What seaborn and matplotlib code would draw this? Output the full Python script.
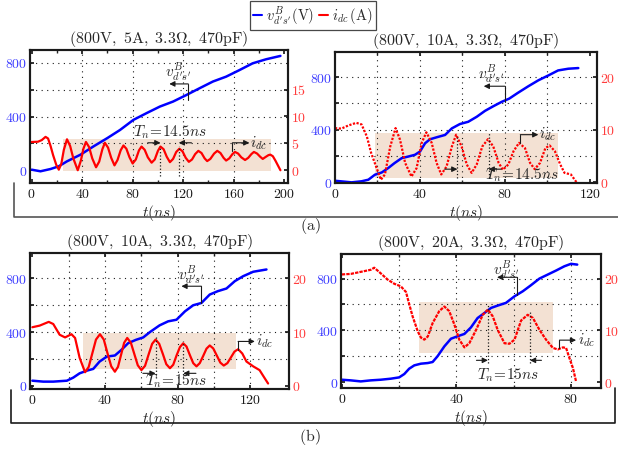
import pandas as pd
import seaborn as sns
import matplotlib.pyplot as plt
from matplotlib.lines import Line2D

sns.set_theme(style="white")
plt.rcParams["mathtext.fontset"] = "cm"
plt.rcParams["font.family"] = ["DejaVu Serif"]

BLUE = "#0000ff"
RED = "#ff0000"
SHADE = "#f3e1d3"

# ---- (a) left: 800V, 5A ----
t_v1 = [0, 7, 15, 21.5, 28, 38.6, 49, 60, 70, 80.6, 91, 101.6, 112, 122.6, 133, 143.6,
        154, 164.6, 175, 185.6, 197]
v1 = [5, -7, 10, 30, 67, 116, 178, 240, 300, 375, 425, 474, 511, 560, 610, 660,
      696, 745, 795, 825, 850]
t_i1 = [0, 5, 8, 11, 13, 15, 17, 19.5, 21.5, 23.5, 25.5, 28, 30.5, 33, 36.5, 39, 41, 43,
        45.5, 48, 51, 53.5, 56, 58, 60.5, 63, 65.6, 68, 70.5, 72.7, 75, 77.5, 80, 82.5,
        85, 87, 89.5, 92, 95, 97.5, 100, 102, 104.5, 107, 109.5, 112, 114.5, 117, 119.5,
        122, 124.5, 127, 129.5, 132, 134.5, 137, 139, 141.5, 144.5, 147, 149.5, 152, 154,
        156.5, 159, 161, 163.5, 166, 169, 171.5, 174, 176, 178.5, 181, 183, 185.5, 187.5,
        189, 191, 193, 195, 197]
i1 = [5.25, 5.3, 5.6, 6.2, 5.9, 4.5, 2.8, 1.0, 0.1, 1.2, 3.8, 5.75, 4.5, 2.2, 0, 1.8, 4.0, 5.25,
      4.3, 2.2, 0.55, 1.6, 3.9, 5.1, 4.2, 2.3, 0.9, 1.9, 3.7, 4.6, 4.0, 2.4, 1.25, 2.0,
      3.7, 4.4, 3.8, 2.4, 1.4, 2.0, 3.6, 4.4, 3.9, 2.5, 1.5, 2.1, 3.4, 4.0, 3.5,
      2.3, 1.56, 2.0, 3.0, 3.6, 3.2, 2.2, 1.7, 2.1, 3.1, 3.6, 3.2, 2.3, 1.8,
      2.2, 3.0, 3.4, 3.1, 2.4, 1.9, 2.3, 3.0, 3.4, 3.1, 2.5, 2.1, 2.5, 2.8,
      2.9, 2.6, 1.8, 0.9, 0]

# ---- (a) right: 800V, 10A ----
t_v2 = [0, 7.8, 12.5, 15.7, 18.8, 22, 25, 28, 31.4, 34.5, 37.6, 40, 42.4, 44.7, 47.8, 51.8,
        55, 58.8, 62.7, 66.7, 70.6, 74.5, 78.4, 82, 86, 91, 95.7, 100.4, 105, 109.8, 114.5]
v2 = [12, 0, 8, 20, 58, 75, 108, 146, 184, 196, 209, 234, 297, 327, 342, 360,
      410, 443, 460, 498, 543, 578, 611, 636, 679, 730, 775, 812, 850, 863, 868]
t_i2 = [0, 3, 6.3, 10, 12.5, 15, 17, 19.6, 21.6, 23.5, 26, 28.5, 30.6, 33, 36, 38.4, 40.8,
        43, 45.5, 47.8, 50, 52.5, 55, 57, 59.6, 62, 64.3, 66.7, 69.3, 72, 74.5, 77, 79,
        81.6, 84, 86.6, 89.4, 91.8, 94, 96.5, 99, 101, 103.5, 106, 108, 111, 113.7]
i2 = [10.3, 10.2, 10.8, 11.3, 11, 8.7, 5.6, 2.7, 0.5, 1.5, 6.8, 10.3, 8.1, 3.7, 1.1, 2.7, 7.5,
      9.5, 7.5, 3.7, 1.5, 3, 6.8, 9.05, 6.8, 3.4, 1.8, 3.4, 6.8, 8.2, 6.8, 3.7, 2.4,
      3.4, 5.9, 7.5, 6.5, 3.7, 2.5, 3.7, 6.5, 7, 5.9, 3.4, 1.8, 1.5, 0]

# ---- (b) left: 800V, 10A ----
t_v3 = [0, 6, 11.5, 19, 22.5, 26, 30, 33.5, 37, 41, 45.4, 49, 52.7, 57, 61, 64.7, 70, 74.7,
        79.3, 84, 88.5, 93, 97.6, 102, 106.8, 111.4, 116, 121.5, 128.8]
v3 = [37, 30, 30, 37, 60, 92, 112, 125, 180, 217, 225, 267, 317, 342, 360, 400, 450, 480,
      492, 555, 600, 617, 680, 705, 725, 780, 817, 850, 867]
t_i3 = [0, 4, 9, 11.5, 15, 18, 21.5, 23.5, 26, 29, 31, 33, 35, 37.2, 39.3, 41.3, 43.4, 45.4,
        47.1, 48.8, 50.5, 52.2, 54.2, 56.1, 58, 60, 62, 63.9, 65.9, 67.8, 69.8, 71.8, 73.7,
        75.7, 77.5, 79.3, 81.2, 83, 84.8, 86.6, 88.5, 90.3, 92.1, 94, 95.8, 97.6, 99.5,
        101.5, 103.4, 105.3, 107.3, 109.3, 111.2, 113.2, 115.5, 117.8, 121.5, 125, 127.8, 129.7]
i3 = [10.9, 11.2, 11.9, 11.5, 9.5, 9.0, 9.6, 8.9, 5.2, 2.5, 3.5, 6.05, 8.6, 9.6, 8.6, 6.1, 3.6, 2.6,
      3.5, 5.75, 8.0, 8.9, 8.0, 5.9, 3.8, 2.9, 3.7, 5.75, 7.8, 8.6, 7.8, 5.9, 4.0,
      3.25, 3.9, 5.6, 7.2, 7.9, 7.3, 5.75, 4.2, 3.6, 4.2, 5.55, 6.9, 7.5, 6.95,
      5.6, 4.3, 3.75, 4.2, 5.3, 6.35, 6.8, 6.0, 4.5, 3.6, 2.9, 1.4, 0.4]

# ---- (b) right: 800V, 20A ----
t_v4 = [0, 3.1, 6.6, 10.1, 13.6, 17.1, 20, 21.8, 23.5, 25.3, 27.6, 30, 31.7, 33.4, 35.8, 38.1,
        40.4, 42.8, 45.1, 47.4, 49.8, 52.1, 54.4, 57.3, 60.3, 63.2, 66, 69, 71.9, 74.8,
        77.7, 80, 82.2]
v4 = [18, 13, 5, 13, 18, 26, 36, 62, 103, 129, 142, 147, 155, 199, 276, 335,
      354, 372, 423, 495, 534, 573, 591, 612, 663, 702, 748, 800, 831, 862,
      895, 914, 908]
t_i4 = [0, 3.1, 6.6, 10.1, 11.3, 13, 16, 18.3, 20.6, 22.4, 23.5, 24.7, 26.5, 27.6, 28.8, 30,
        31.7, 34, 35.8, 37.5, 39.3, 41, 42.8, 44.5, 46.9, 49.2, 51, 52.7, 54.4, 56.8, 58.5,
        60.3, 62.6, 64.9, 66.7, 69, 71.3, 73.7, 75.4, 77.2, 78.3, 79.5, 80.7, 81.8]
i4 = [20.8, 20.9, 21.3, 21.7, 22.1, 21.3, 19.8, 19, 18.5, 17.4, 15.1, 12.7, 9.8, 8.6, 8.2, 8.8,
      11.4, 13.7, 14.6, 13.7, 11.1, 8.2, 6.7, 7.5, 10.1, 13, 14, 12.7, 10.1, 7.5, 7.4,
      8.2, 11.9, 13, 12.4, 10.1, 8.2, 6.6, 6.3, 6.7, 6.6, 4.6, 2.7, 0.1]

titles = [r"$\mathrm{(800V,\ 5A,\ 3.3\Omega,\ 470pF)}$",
          r"$\mathrm{(800V,\ 10A,\ 3.3\Omega,\ 470pF)}$",
          r"$\mathrm{(800V,\ 10A,\ 3.3\Omega,\ 470pF)}$",
          r"$\mathrm{(800V,\ 20A,\ 3.3\Omega,\ 470pF)}$"]
tn_labels = [r"$T_n\!=\!14.5ns$", r"$T_n\!=\!14.5ns$", r"$T_n\!=\!15ns$", r"$T_n\!=\!15ns$"]

V_LBL = r"$v^{B}_{d^{\prime}s^{\prime}}$"
I_LBL = r"$i_{dc}$"

W, H = 618, 450


def rect(l, t, r, b):
    return [l / W, 1 - b / H, (r - l) / W, (b - t) / H]


panels = [
    dict(rect=rect(30, 50, 288, 183), tv=t_v1, v=v1, ti=t_i1, i=i1,
         xlim=(-1.3, 203), vlim=(-94, 894), ilim=(-2.375, 22.35),
         xt=[0, 40, 80, 120, 160, 200], xgrid=[40, 80, 120, 160], xminor=range(20, 200, 40),
         it=[0, 5, 10, 15], shade=(25, 189.5, -7, 232), red_ls="-",
         tn=(102, 116.5, 4.5, 4.5, -1.1, 5.1, 109.5, 7.0, 10),
         vann=(124, 523, 642, 109, 116, 733), iann=(159, 3.6, 5.1, 172.4)),
    dict(rect=rect(335, 52, 597, 183), tv=t_v2, v=v2, ti=t_i2, i=i2,
         xlim=(0, 123.3), vlim=(-5, 990), ilim=(-0.125, 24.75),
         xt=[0, 40, 80, 120], xgrid=[20, 40, 60, 80, 100], xminor=[],
         it=[0, 10, 20], shade=(19, 105, 33, 372), red_ls=(0, (1, 0.7)),
         tn=(57.6, 72.3, 9.05, 9.5, 0.8, 2.5, 88, 1.3, 6),
         vann=(80, 611, 730, 70, 73.7, 825), iann=(87.2, 7.5, 9.05, 95.7)),
    dict(rect=rect(30, 253, 289, 389), tv=t_v3, v=v3, ti=t_i3, i=i3,
         xlim=(-1.3, 141.2), vlim=(-25, 990), ilim=(-0.625, 24.75),
         xt=[0, 40, 80, 120], xgrid=[20, 40, 60, 80, 100, 120], xminor=[],
         it=[0, 10, 20], shade=(27.7, 112.3, 122, 392), red_ls="-",
         tn=(67.8, 83, 9.2, 8.3, 1.4, 2.3, 78.8, 0.75, 7),
         vann=(93, 617, 742, 82, 87.5, 830), iann=(113.2, 6.7, 8.25, 122.4)),
    dict(rect=rect(341, 254, 601, 388), tv=t_v4, v=v4, ti=t_i4, i=i4,
         xlim=(-0.3, 90.5), vlim=(-46, 990), ilim=(-1.15, 24.75),
         xt=[0, 40, 80], xgrid=[20, 40, 60, 80], xminor=[],
         it=[0, 10, 20], shade=(27, 73.6, 225, 619), red_ls=(0, (1.5, 0.5)),
         tn=(51, 65.7, 15, 13.7, 3.7, 4.2, 58, 1.4, 4),
         vann=(61.2, 676, 810, 54.2, 57.3, 870), iann=(76, 6.6, 8.1, 81.8)),
]

fig = plt.figure(figsize=(W / 100, H / 100), dpi=100)

for k, p in enumerate(panels):
    ax = fig.add_axes(p["rect"])
    ax2 = ax.twinx()
    ax.set_facecolor("white")

    # shaded ringing window
    t0, t1, y0, y1 = p["shade"]
    ax.fill_between([t0, t1], y0, y1, color=SHADE, lw=0, zorder=0)

    dv = pd.DataFrame({"t": p["tv"], "v": p["v"]})
    di = pd.DataFrame({"t": p["ti"], "i": p["i"]})
    sns.lineplot(data=dv, x="t", y="v", ax=ax, color=BLUE, lw=1.8, sort=False)
    sns.lineplot(data=di, x="t", y="i", ax=ax2, color=RED, lw=1.6, sort=False,
                 linestyle=p["red_ls"])

    ax.set_xlim(*p["xlim"])
    ax.set_ylim(*p["vlim"])
    ax2.set_ylim(*p["ilim"])

    # grid (dotted, like the scope export)
    for g in p["xgrid"]:
        ax.axvline(g, color="k", ls=(0, (1, 4)), lw=0.8, zorder=1)
    for g in [200, 400, 600, 800]:
        ax.axhline(g, color="k", ls=(0, (1, 4)), lw=0.8, zorder=1)

    ax.set_xticks(p["xt"])
    ax.set_xticklabels([f"${x}$" for x in p["xt"]])
    ax.set_xticks(list(p["xgrid"]) + list(p["xminor"]), minor=True)
    ax.set_yticks([0, 200, 400, 600, 800])
    ax.set_yticklabels(["$0$", "", "$400$", "", "$800$"])
    ax2.set_yticks(p["it"])
    ax2.set_yticklabels([f"${x}$" for x in p["it"]])

    ax.tick_params(axis="x", direction="in", length=3, labelsize=10, pad=3,
                   top=True, bottom=True, colors="k")
    ax.tick_params(axis="x", which="minor", direction="in", length=2, top=True, bottom=True)
    ax.tick_params(axis="y", direction="in", length=3, labelsize=10, pad=2,
                   labelcolor="#3c3cff", color="k")
    ax2.tick_params(axis="y", direction="in", length=3, labelsize=10, pad=2,
                    labelcolor="#ff3c3c", color="k")
    for sp in ax.spines.values():
        sp.set_linewidth(1.5)
        sp.set_color("k")
    for sp in ax2.spines.values():
        sp.set_linewidth(1.5)
        sp.set_color("k")

    ax.set_xlabel(r"$t(ns)$", fontsize=11, labelpad=1)
    ax.set_ylabel("")
    ax2.set_ylabel("")
    ax.set_title(titles[k], fontsize=11.5, pad=5)

    # T_n markers
    ta, tb, ya, yb, ybot, yarr, tx, ty, dx = p["tn"]
    ax2.plot([ta, ta], [ybot, ya], color="k", ls=":", lw=0.9)
    ax2.plot([tb, tb], [ybot, yb], color="k", ls=":", lw=0.9)
    arr = dict(arrowstyle="-|>", color="k", lw=0.8, mutation_scale=8, shrinkA=0, shrinkB=0)
    ax2.annotate("", xy=(ta, yarr), xytext=(ta - dx, yarr), arrowprops=arr)
    ax2.annotate("", xy=(tb, yarr), xytext=(tb + dx, yarr), arrowprops=arr)
    ax2.text(tx, ty, tn_labels[k], fontsize=11, ha="center", va="center")

    # v label with elbow arrow (points to left axis)
    vx, vy0, vy1, vend, lx, ly = p["vann"]
    ax.plot([vx, vx], [vy0, vy1], color="k", lw=0.8)
    ax.annotate("", xy=(vend, vy1), xytext=(vx, vy1), arrowprops=arr)
    ax.text(lx, ly, V_LBL, fontsize=11, ha="center", va="center")

    # i label with elbow arrow (points to right axis)
    ix, iy0, iy1, iend = p["iann"]
    ax2.plot([ix, ix], [iy0, iy1], color="k", lw=0.8)
    ax2.annotate("", xy=(iend, iy1), xytext=(ix, iy1), arrowprops=arr)
    ax2.text(iend + 0.5, iy1, I_LBL, fontsize=11, ha="left", va="center")

# brackets and sub-captions
def fig_line(xs, ys, color):
    fig.add_artist(Line2D([x / W for x in xs], [1 - y / H for y in ys],
                          color=color, lw=1.2))

fig_line([14, 14, 618], [183, 217, 217], "#555555")
fig_line([10.5, 10.5, 615, 615], [390, 423, 423, 388], "k")
fig.text(310 / W, 1 - 226 / H, r"$\mathrm{(a)}$", fontsize=11.5, ha="center", va="center")
fig.text(310 / W, 1 - 437 / H, r"$\mathrm{(b)}$", fontsize=11.5, ha="center", va="center")

handles = [Line2D([], [], color=BLUE, lw=1.5), Line2D([], [], color=RED, lw=1.5)]
leg = fig.legend(handles, [V_LBL + r"$\mathrm{(V)}$", I_LBL + r"$\,\mathrm{(A)}$"],
                 loc="upper center", bbox_to_anchor=(313 / W, 1 - 1 / H), ncol=2,
                 frameon=True, fancybox=False, edgecolor="k", fontsize=10.5,
                 handlelength=0.6, handletextpad=0.3, columnspacing=0.3,
                 borderpad=0.2, borderaxespad=0)
leg.get_frame().set_linewidth(0.9)

fig.savefig("out.png", dpi=100)
